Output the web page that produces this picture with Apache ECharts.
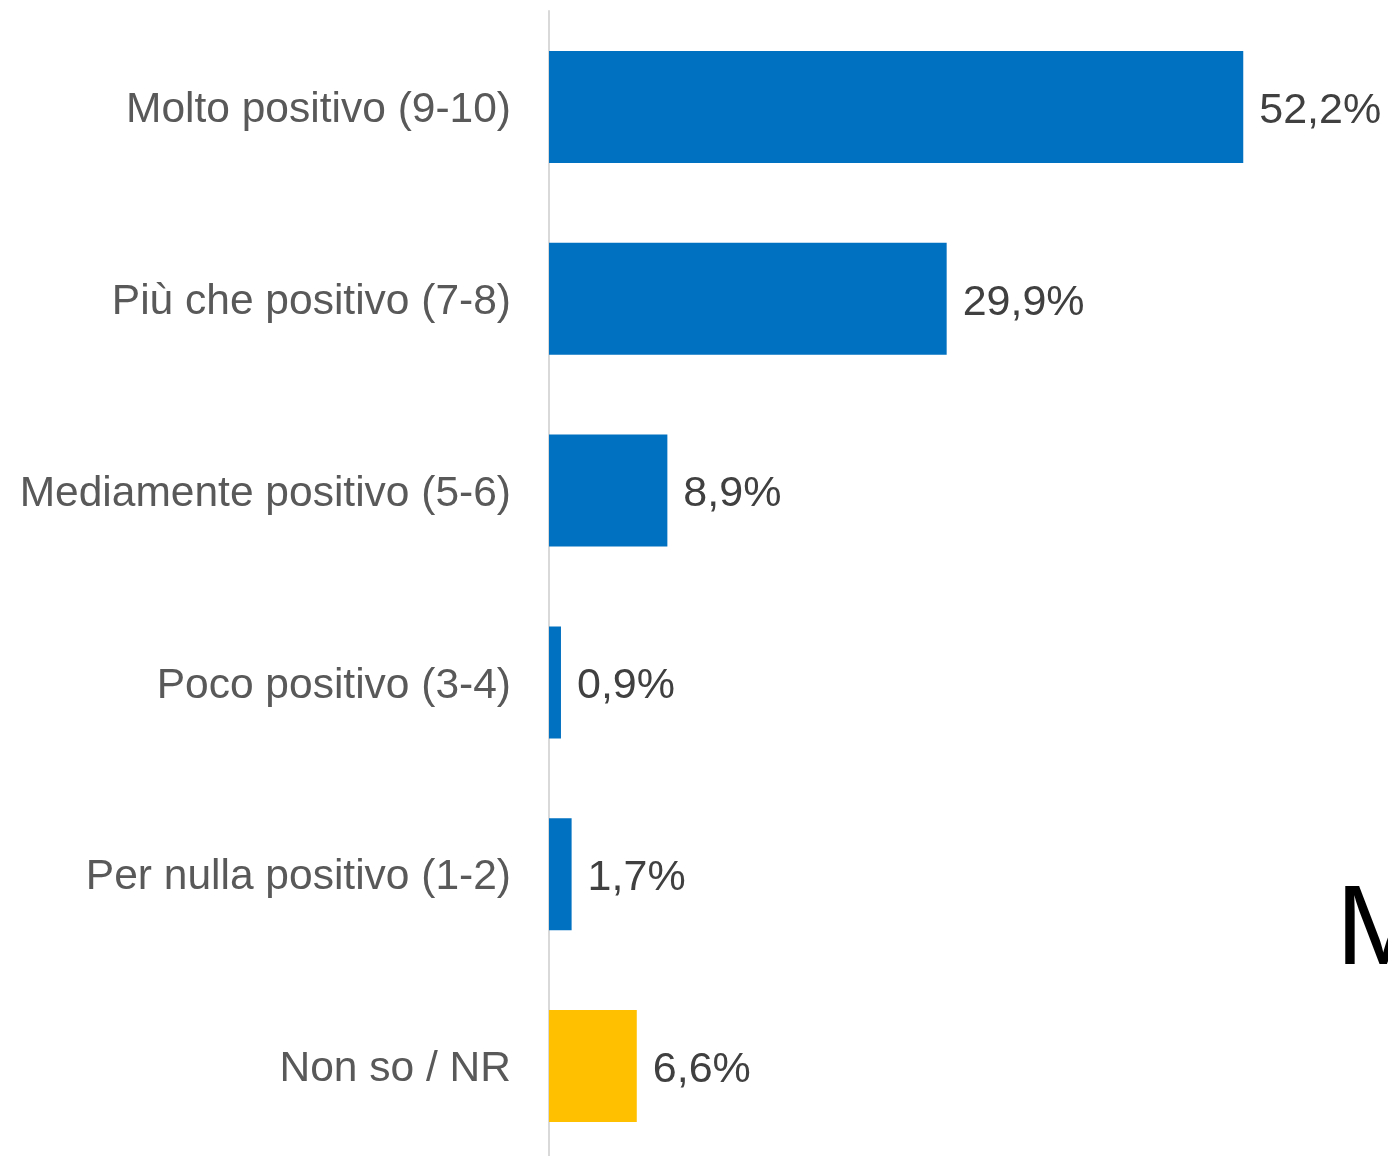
<!DOCTYPE html>
<html>
<head>
<meta charset="utf-8">
<script src="https://cdn.jsdelivr.net/npm/echarts@6/dist/echarts.min.js"></script>
<style>
html,body{margin:0;padding:0;background:#fff;}
#c{width:1388px;height:1156px;}
</style>
</head>
<body>
<div id="c"></div>
<script>
const categories = ["Molto positivo (9-10)", "Più che positivo (7-8)", "Mediamente positivo (5-6)", "Poco positivo (3-4)", "Per nulla positivo (1-2)", "Non so / NR"];
const values = [52.2, 29.9, 8.9, 0.9, 1.7, 6.6];
const barColors = ["#0070C0", "#0070C0", "#0070C0", "#0070C0", "#0070C0", "#FFC000"];

const chart = echarts.init(document.getElementById('c'), null, {renderer: 'canvas'});
chart.setOption({
  backgroundColor: '#ffffff',
  animation: false,
  grid: {left: 549, top: 11, width: 798, height: 1151, containLabel: false, outerBoundsMode: 'none'},
  xAxis: {
    type: 'value', min: 0, max: 60,
    show: false
  },
  yAxis: {
    type: 'category',
    data: categories,
    inverse: true,
    axisLine: {show: true, lineStyle: {color: '#D9D9D9', width: 2}},
    axisTick: {show: false},
    axisLabel: {
      margin: 38,
      fontFamily: 'Liberation Sans, Arial, sans-serif',
      fontSize: 42.5,
      color: '#595959',
      formatter: v => '{s|}\n{t|' + v + '}',
      rich: {
        s: {lineHeight: 7, fontSize: 1},
        t: {fontFamily: 'Liberation Sans, Arial, sans-serif', fontSize: 42.5, color: '#595959', lineHeight: 50}
      }
    },
    splitLine: {show: false}
  },
  series: [{
    type: 'bar',
    barWidth: 112,
    data: values.map((v, i) => ({value: v, itemStyle: {color: barColors[i]}})),
    label: {
      show: true,
      position: 'right',
      distance: 16,
      offset: [0, 4],
      fontFamily: 'Liberation Sans, Arial, sans-serif',
      fontSize: 43,
      color: '#404040',
      formatter: p => p.value.toFixed(1).replace('.', ',') + '%'
    }
  }],
  graphic: [{
    type: 'text',
    left: 1336,
    top: 876,
    style: {
      text: 'M',
      fontFamily: 'Liberation Sans, Arial, sans-serif',
      fontSize: 113,
      fill: '#000000'
    }
  }]
});
</script>
</body>
</html>
